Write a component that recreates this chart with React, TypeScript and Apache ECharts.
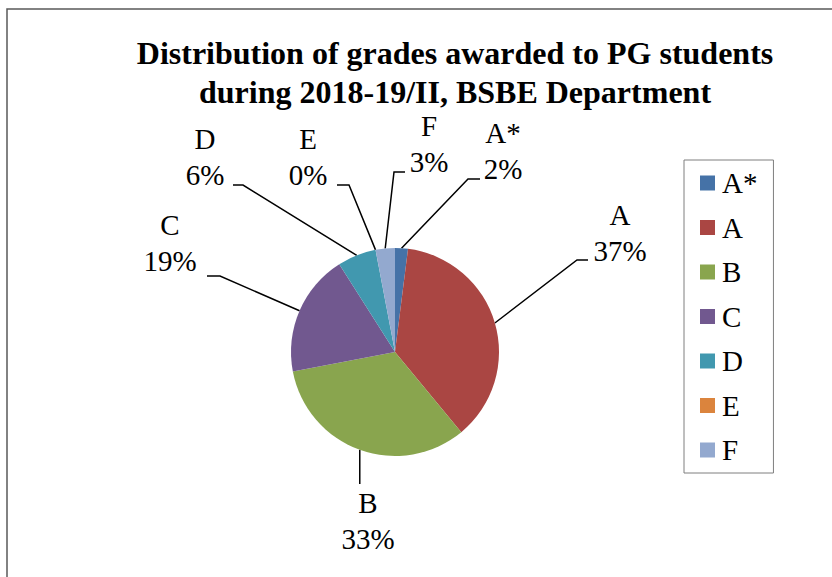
import React, { useEffect, useRef } from "react";
import * as echarts from "echarts";

const grades = ["A*", "A", "B", "C", "D", "E", "F"];
const counts = [2, 37, 33, 19, 6, 0, 3];
const colors = ["#4572A7", "#AA4643", "#89A54E", "#71588F", "#4198AF", "#DB843D", "#93A9CF"];
const titleLines = ["Distribution of grades awarded to PG students", "during 2018-19/II, BSBE Department"];

// label block centre and leader line elbow / end, per slice (layout only)
const labelPos = [
  { x: 503, y: 151, elbow: [468, 179], end: [480, 179] },
  { x: 620, y: 233, elbow: [577, 260], end: [588, 260] },
  { x: 368, y: 521, elbow: null, end: null },
  { x: 170, y: 243, elbow: [220, 276], end: [207, 276] },
  { x: 205, y: 157, elbow: [243, 185], end: [233, 185] },
  { x: 308, y: 157, elbow: [349, 185], end: [337, 185] },
  { x: 429, y: 144, elbow: [394, 172], end: [405, 172] },
];

const FONT = "'Liberation Serif', 'Times New Roman', serif";

export default function App() {
  const ref = useRef<HTMLDivElement>(null);
  useEffect(() => {
    if (!ref.current) return;
    const chart = echarts.init(ref.current, null, { renderer: "svg" });
    chart.setOption({
      animation: false,
      backgroundColor: "#ffffff",
      color: colors,
      graphic: [
        {
          type: "rect",
          shape: { x: 7, y: 9, width: 900, height: 700 },
          style: { fill: "none", stroke: "#595959", lineWidth: 1.5 },
          silent: true,
        },
        {
          type: "text",
          x: 455,
          y: 33,
          style: {
            text: titleLines.join("\n"),
            textAlign: "center",
            textVerticalAlign: "top",
            font: `bold 32px ${FONT}`,
            lineHeight: 39,
            fill: "#000000",
          },
        },
      ],
      legend: {
        orient: "vertical",
        left: 684,
        top: 160,
        data: grades,
        icon: "rect",
        itemWidth: 15,
        itemHeight: 15,
        itemGap: 14.5,
        padding: [8, 16, 8, 16],
        borderColor: "#7f7f7f",
        borderWidth: 1,
        textStyle: { fontFamily: FONT, fontSize: 29, color: "#000", lineHeight: 30, padding: [0, 0, 0, 2] },
      },
      series: [
        {
          type: "pie",
          center: [395, 352],
          radius: 104,
          startAngle: 90,
          clockwise: true,
          percentPrecision: 0,
          data: grades.map((g, i) => ({ name: g, value: counts[i] })),
          itemStyle: { borderWidth: 0 },
          label: {
            show: true,
            position: "outside",
            formatter: "{b}\n{d}%",
            fontFamily: FONT,
            fontSize: 29,
            lineHeight: 36,
            color: "#000",
            align: "center",
          },
          labelLine: { show: true, length: 20, length2: 10, lineStyle: { color: "#000", width: 1.5 } },
          labelLayout: (params: any) => {
            const p = labelPos[params.dataIndex];
            const pts = params.labelLinePoints;
            const a = pts && pts[0] ? pts[0] : [p.x, p.y];
            const elbow = p.elbow ? p.elbow : [a[0], 484];
            const end = p.end ? p.end : [a[0], 484];
            return {
              x: p.x,
              y: p.y,
              align: "center",
              verticalAlign: "middle",
              labelLinePoints: [a, elbow, end],
            };
          },
        },
      ],
    });
    return () => chart.dispose();
  }, []);
  return (
    <div
      ref={ref}
      style={{ position: "absolute", left: 0, top: 0, width: 832, height: 577, background: "#fff" }}
    />
  );
}
